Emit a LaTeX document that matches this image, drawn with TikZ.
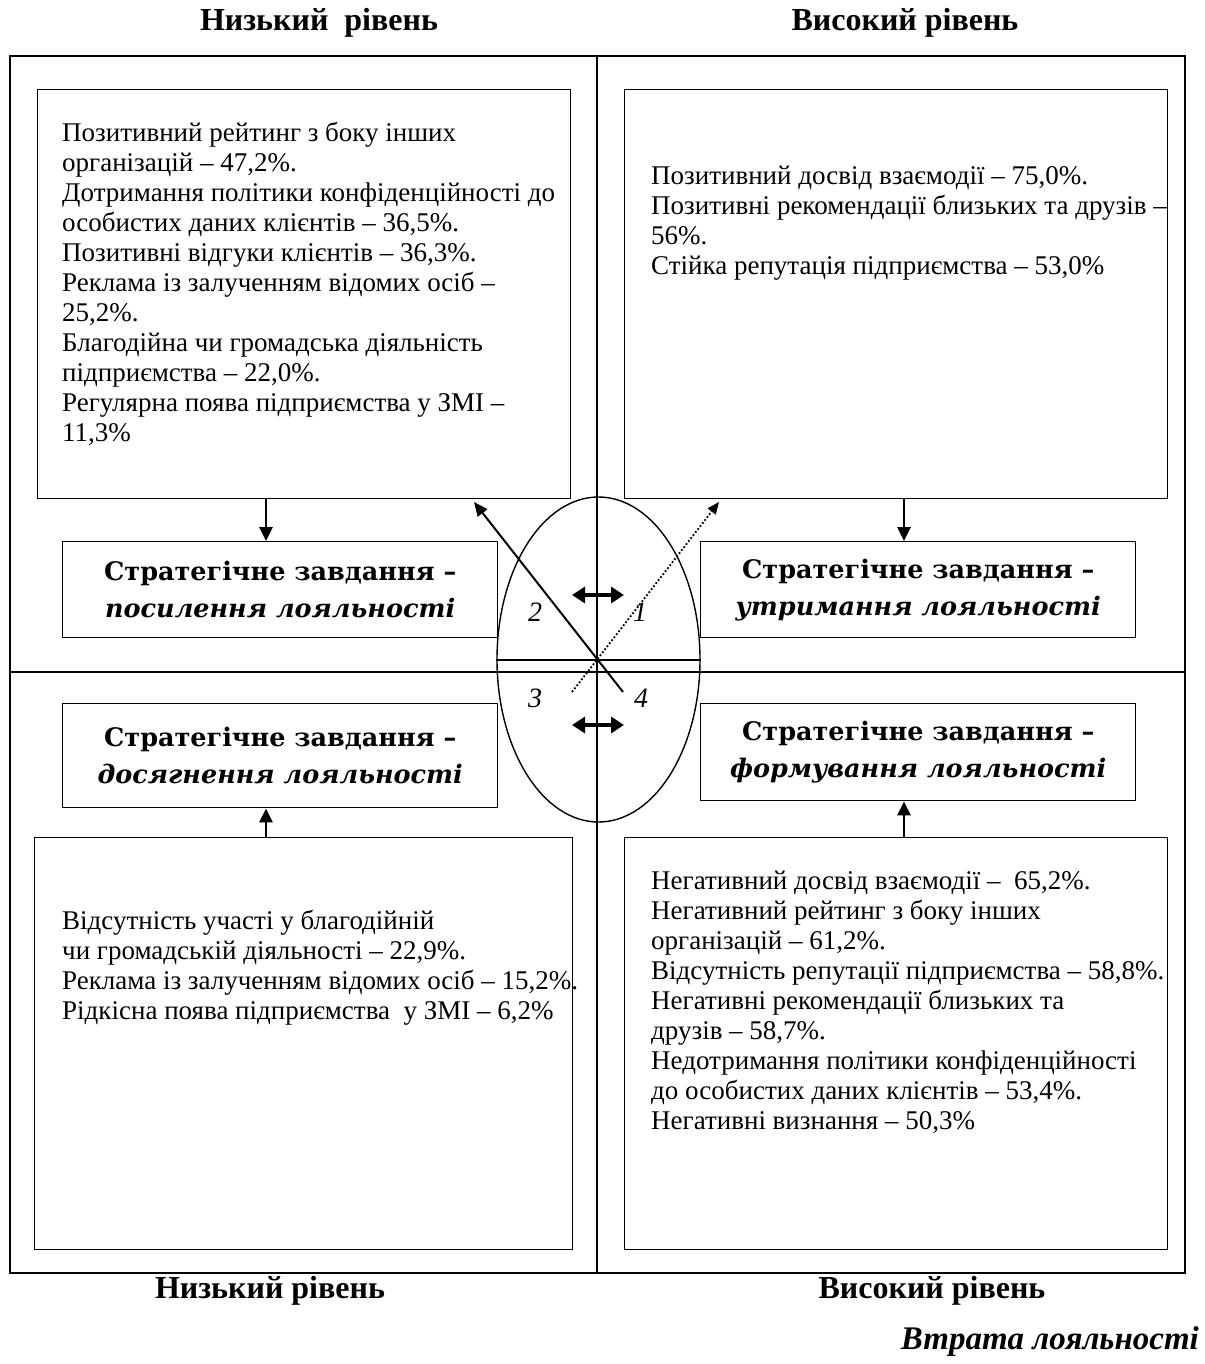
\documentclass[tikz,border=0pt]{standalone}
\usepackage{fontspec}
\setmainfont{Liberation Serif}
\newfontfamily\strfont{DejaVu Serif}
\usetikzlibrary{shapes.geometric,arrows.meta}
\begin{document}
\begin{tikzpicture}[x=1pt,y=-1pt,
  box/.style={draw, line width=1.4pt, inner sep=0pt, anchor=north west},
  sbox/.style={draw, line width=1.4pt, inner sep=0pt, anchor=north west, align=center,
    font=\strfont\fontsize{25.5}{37}\selectfont\bfseries},
  txt/.style={inner sep=0pt, anchor=north west, align=left,
    font=\fontsize{27}{30}\selectfont},
  hd/.style={inner sep=0pt, font=\fontsize{32}{34}\selectfont\bfseries},
  lbl/.style={inner sep=0pt, font=\fontsize{28}{30}\selectfont\itshape},
  varr/.style={line width=2.6pt, -{Triangle[length=14pt,width=13pt]}},
  darr/.style={line width=3.6pt, {Triangle[length=13pt,width=16pt]}-{Triangle[length=13pt,width=16pt]}},
]
\useasboundingbox (0,0) rectangle (1204,1364);

% frame and quadrant lines
\draw[line width=1.8pt] (10,56) rectangle (1185,1273);
\draw[line width=1.4pt] (597,56) -- (597,1273);
\draw[line width=1.4pt] (10,672) -- (1185,672);

% ellipse
\node[ellipse, draw, line width=1.4pt, minimum width=203pt, minimum height=325pt, inner sep=0pt] (ell) at (598.5,659.5) {};
\draw[line width=1.4pt] (ell.west |- 0,660) -- (ell.east |- 0,660);

% content boxes
\node[box, minimum width=533pt, minimum height=409pt] (tl) at (37,89) {};
\node[box, minimum width=543pt, minimum height=409pt] (tr) at (624,89) {};
\node[box, minimum width=538pt, minimum height=412pt] (bl) at (34,837) {};
\node[box, minimum width=543pt, minimum height=412pt] (br) at (624,837) {};

% strategy boxes
\node[sbox, minimum width=435pt, minimum height=96pt] (stl) at (62,541)
  {Стратегічне завдання –\\ \itshape посилення лояльності};
\node[sbox, minimum width=435pt, minimum height=96pt] (str) at (700,541)
  {Стратегічне завдання –\\ \itshape утримання лояльності};
\node[sbox, minimum width=435pt, minimum height=104pt] (sbl) at (62,703)
  {Стратегічне завдання –\\ \itshape досягнення лояльності};
\node[sbox, minimum width=435pt, minimum height=97pt] (sbr) at (700,703)
  {Стратегічне завдання –\\ \itshape формування лояльності};

% texts
\node[txt] (ttl) at (62,122) {Позитивний рейтинг з боку інших\\
організацій – 47,2\%.\\
Дотримання політики конфіденційності до\\
особистих даних клієнтів – 36,5\%.\\
Позитивні відгуки клієнтів – 36,3\%.\\
Реклама із залученням відомих осіб –\\
25,2\%.\\
Благодійна чи громадська діяльність\\
підприємства – 22,0\%.\\
Регулярна поява підприємства у ЗМІ –\\
11,3\%};

\node[txt] (ttr) at (651,166) {Позитивний досвід взаємодії – 75,0\%.\\
Позитивні рекомендації близьких та друзів –\\
56\%.\\
Стійка репутація підприємства – 53,0\%};

\node[txt] (tbl) at (62,910) {Відсутність участі у благодійній\\
чи громадській діяльності – 22,9\%.\\
Реклама із залученням відомих осіб – 15,2\%.\\
Рідкісна поява підприємства~ у ЗМІ – 6,2\%};

\node[txt] (tbr) at (651,871) {Негативний досвід взаємодії – ~65,2\%.\\
Негативний рейтинг з боку інших\\
організацій – 61,2\%.\\
Відсутність репутації підприємства – 58,8\%.\\
Негативні рекомендації близьких та\\
друзів – 58,7\%.\\
Недотримання політики конфіденційності\\
до особистих даних клієнтів – 53,4\%.\\
Негативні визнання – 50,3\%};

% headings
\node[hd] (h1) at (319,23) {Низький~ рівень};
\node[hd] (h2) at (905,23) {Високий рівень};
\node[hd] (h3) at (270,1291) {Низький рівень};
\node[hd] (h4) at (932,1291) {Високий рівень};
\node[hd, anchor=east, font=\fontsize{33}{36}\selectfont\bfseries\itshape] (h5) at (1199,1342) {Втрата лояльності};

% vertical arrows
\coordinate (xl) at (266,0);
\coordinate (xr) at (904,0);
\draw[varr] (tl.south -| xl) -- (stl.north -| xl);
\draw[varr] (tr.south -| xr) -- (str.north -| xr);
\draw[varr] (bl.north -| xl) -- (sbl.south -| xl);
\draw[varr] (br.north -| xr) -- (sbr.south -| xr);

% diagonals
\coordinate (s1) at (623,692);
\coordinate (s2) at (474,502);
\coordinate (d1) at (572,692);
\coordinate (d2) at (719,502);
\draw[line width=2pt, -{Triangle[length=14pt,width=12pt]}] (s1) -- (s2);
\draw[line width=1.8pt, dotted, -{Triangle[length=12pt,width=10pt]}] (d1) -- (d2);

% double arrows
\coordinate (u1) at (572,595);
\coordinate (u2) at (624,595);
\coordinate (w1) at (572,725);
\coordinate (w2) at (624,725);
\draw[darr] (u1) -- (u2);
\draw[darr] (w1) -- (w2);

% quadrant labels
\node[lbl] (n2) at (535,612) {2};
\node[lbl] (n1) at (640,612) {1};
\node[lbl] (n3) at (535,698) {3};
\node[lbl] (n4) at (641,698) {4};
\end{tikzpicture}
\end{document}
